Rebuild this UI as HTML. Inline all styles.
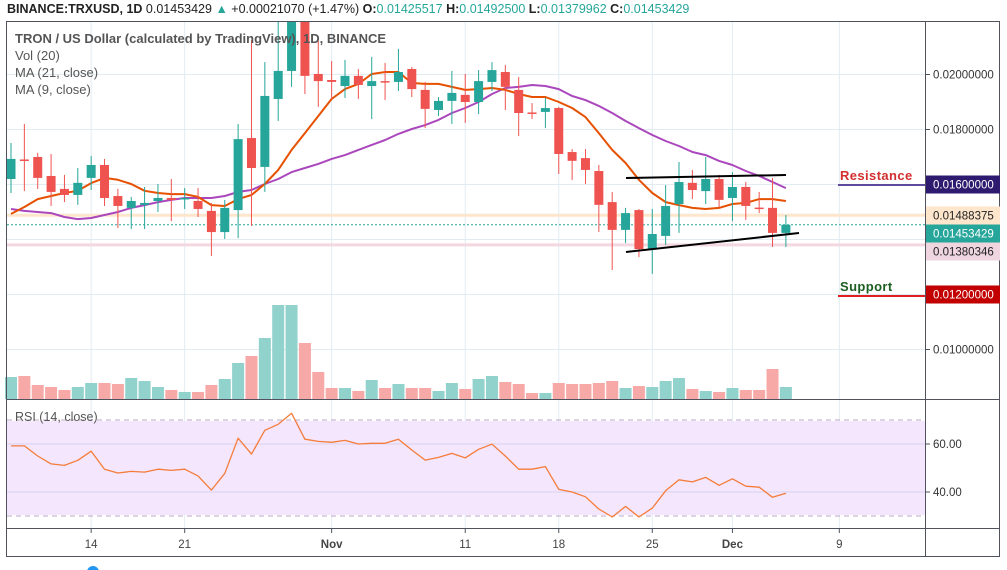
<!DOCTYPE html>
<html><head><meta charset="utf-8"><style>
html,body{margin:0;padding:0;background:#fff;width:1007px;height:570px;overflow:hidden}
svg{display:block;font-family:"Liberation Sans",sans-serif}
</style></head><body>
<svg id="c" width="1007" height="570" viewBox="0 0 1007 570">
<rect width="1007" height="570" fill="#fff"/>
<g id="grid"></g>
<rect x="7" y="421" width="918" height="94" fill="#f3e6fd"/>
<g id="rsiGrid"></g>
<g id="levels"></g>
<g id="vol"></g>
<g id="ma"></g>
<g id="candles" clip-path="url(#mainClip)"></g>
<clipPath id="mainClip"><rect x="7" y="21" width="918" height="378"/></clipPath>
<g id="rsi"></g>
<g id="annot"></g>
<!-- frames -->
<rect x="6.5" y="21.5" width="993" height="535" fill="none" stroke="#50535e" stroke-width="1"/>
<line x1="925.5" y1="21" x2="925.5" y2="556" stroke="#50535e"/>
<line x1="7" y1="399.5" x2="1000" y2="399.5" stroke="#50535e"/>
<line x1="7" y1="528.5" x2="1000" y2="528.5" stroke="#50535e"/>
<g id="axes"></g>
<text x="7" y="13" font-size="12.5" fill="#222"><tspan font-weight="bold">BINANCE:TRXUSD, 1D</tspan> 0.01453429 <tspan fill="#26a69a">▲</tspan> +0.00021070 (+1.47%) <tspan font-weight="bold">O:</tspan><tspan fill="#26a69a">0.01425517</tspan> <tspan font-weight="bold">H:</tspan><tspan fill="#26a69a">0.01492500</tspan> <tspan font-weight="bold">L:</tspan><tspan fill="#26a69a">0.01379962</tspan> <tspan font-weight="bold">C:</tspan><tspan fill="#26a69a">0.01453429</tspan></text>
<g font-size="13" fill="#555">
<text x="15" y="43" font-weight="bold">TRON / US Dollar (calculated by TradingView), 1D, BINANCE</text>
<text x="15" y="60">Vol (20)</text>
<text x="15" y="77">MA (21, close)</text>
<text x="15" y="94">MA (9, close)</text>
<text x="15" y="421" font-size="12.5">RSI (14, close)</text>
</g>
<circle cx="93" cy="572" r="6" fill="#2196f3"/>
</svg>
<script>
// prices in units of 1e-4 USD
const opens=[162.0,169.1,170.0,163.1,158.4,156.2,162.4,167.1,155.8,151.5,152.6,154.0,155.1,154.7,154.0,150.4,142.7,150.7,176.9,166.4,191.1,201.3,225.3,200.2,198.0,195.8,199.5,195.8,197.6,197.3,202.0,194.4,187.1,190.4,192.6,190.0,197.3,200.9,194.4,186.2,186.4,187.8,171.8,169.6,164.9,153.6,143.5,150.7,136.5,141.3,152.9,160.6,157.6,162.0,155.1,159.1,151.6,151.5,142.4];
const highs=[175.1,182.0,171.5,171.1,163.5,166.0,170.4,169.3,158.4,155.5,159.1,160.2,162.0,158.7,158.7,153.3,154.4,182.0,212.5,204.5,219.8,227.1,227.1,212.2,204.9,205.3,202.0,206.4,204.2,209.3,202.7,197.3,191.8,201.3,200.2,201.6,204.5,203.5,199.1,189.6,191.5,188.2,172.9,172.9,167.1,157.3,151.5,151.1,151.1,159.8,168.2,165.3,170.0,163.5,164.5,160.9,157.3,162.4,148.9];
const lows=[156.9,157.6,158.4,152.2,153.6,152.6,158.0,152.2,144.2,143.8,143.8,150.0,146.7,151.1,148.2,134.0,140.2,140.5,144.9,157.3,183.1,195.5,192.9,188.2,191.1,191.5,191.1,183.8,190.7,194.0,191.8,180.5,184.9,182.0,182.4,185.6,194.0,187.1,177.6,183.8,180.5,163.8,161.6,160.2,142.7,128.9,138.7,133.6,127.5,138.0,142.4,154.7,152.9,151.8,146.7,147.1,149.6,137.3,137.3];
const closes=[169.3,168.7,162.4,157.3,156.2,160.6,167.1,155.1,152.2,154.0,153.3,155.1,154.4,155.1,151.1,142.7,151.5,176.5,166.0,192.2,201.3,223.5,199.5,197.6,197.3,199.5,196.2,197.6,197.3,200.9,194.7,187.5,190.4,193.3,190.0,197.6,201.6,195.5,186.0,185.8,187.8,171.1,168.6,165.3,152.6,143.5,149.6,136.5,142.0,152.2,160.9,158.0,162.0,154.4,159.1,152.2,151.3,142.4,145.34];
const volumes=[22,23,14,12,9,12,16,16,15,21,18,12,9,7,7,14,20,36,43,61,94,94,56,27,11,11,8,19,11,15,11,11,8,16,10,20,23,17,15,6,6,16,15,15,16,18,11,13,12,18,21,10,8,7,11,9,9,30,12];
const ma9=[149.3,151.8,154.7,155.8,156.9,157.7,160.5,162.4,161.7,160.2,157.7,156.9,156.5,156.5,155.5,152.5,152.2,154.7,156.2,160.2,165.3,172.6,178.7,184.9,191.1,194.7,196.6,200.2,200.9,200.9,196.9,196.6,196.6,195.5,194.4,194.7,195.1,194.4,192.9,191.8,191.8,190.0,187.8,184.5,178.7,172.6,167.8,161.7,156.9,153.6,152.5,151.5,151.1,151.5,152.9,153.3,154.7,154.7,154.0];
const ma21=[151.1,150.4,150.0,149.6,148.2,147.4,147.8,148.9,150.0,151.5,152.5,153.6,154.4,155.1,155.1,155.1,155.8,157.3,158.0,160.2,162.0,164.5,166.0,167.5,169.3,170.7,172.6,174.4,176.2,178.4,180.2,181.6,183.5,186.0,187.8,190.0,192.9,195.1,195.5,196.2,195.8,194.7,192.2,190.7,188.6,186.0,183.1,180.5,178.0,175.8,174.0,171.8,170.7,168.6,167.1,164.9,163.1,160.9,158.7];
const rsiVals=[59.2,59.2,55,51.7,51.1,53.2,57,49.5,47.9,48.6,48.3,49.5,49,49.5,46.7,40.8,47.8,62.4,55.8,65.7,68.2,72.8,62,61.1,60.7,61.5,60,60.3,60.3,62,57.5,53.3,54.4,56.1,54.2,57.8,59.9,55,49.5,49.5,50.6,41.1,40,38,32.9,29.6,34,29.6,33.3,40.5,45.1,44.2,46.1,42.8,45.5,42.4,42,37.8,39.5];
const tickLabels=["14","21","Nov","11","18","25","Dec","9"];
const tickDays=[6,13,24,34,41,48,54,62];
const tickBold=[false,false,true,false,false,false,true,false];
const priceTicks=[200,180,160,140,120,100];
const priceTickLabels=["0.02000000","0.01800000","","","","0.01000000"];
const rsiTicks=[60,40];
const rsiTickLabels=["60.00","40.00"];

const NS='http://www.w3.org/2000/svg';
function el(tag,attrs,parent){const e=document.createElementNS(NS,tag);for(const k in attrs)e.setAttribute(k,attrs[k]);parent.appendChild(e);return e;}
const xOf=i=>11+i*13.36;
const yOf=p=>74.5+(200-p)*2.75;
const yVol=v=>399-v;
const yRsi=v=>492-(v-40)*2.4;
const G=id=>document.getElementById(id);

// grid
const grid=G('grid');
tickDays.forEach(d=>{const l=el('line',{x1:xOf(d),x2:xOf(d),y1:21,y2:528,stroke:'#e1ecf2'},grid);

});
priceTicks.forEach(p=>{const l=el('line',{x1:7,x2:925,y1:yOf(p),y2:yOf(p),stroke:'#e1ecf2'},grid);

});
const rg=G('rsiGrid');
rsiTicks.forEach(v=>{const l=el('line',{x1:7,x2:925,y1:yRsi(v),y2:yRsi(v),stroke:'#d8d3f0'},rg);

});
[70,30].forEach(v=>{const l=el('line',{x1:7,x2:925,y1:yRsi(v),y2:yRsi(v),stroke:'#b8a8c0','stroke-dasharray':'5,4'},rg);

});

// level lines
const lv=G('levels');
[[148.8375,'#fde6cc',3,null],[138.0346,'#f3d8e0',3,null],[145.3429,'#26a69a',1,'2,2']].forEach(a=>{
const l=el('line',{x1:7,x2:925,y1:yOf(a[0]),y2:yOf(a[0]),stroke:a[1],'stroke-width':a[2]},lv);
if(a[3])l.setAttribute('stroke-dasharray',a[3]);

});

// volume
const vg=G('vol');
volumes.forEach((v,i)=>{const up=closes[i]>=opens[i];
const r=el('rect',{x:xOf(i)-6,y:yVol(v),width:12,height:v,fill:up?'#92d2cc':'#f7a9a7'},vg);

});

// MAs
const mg=G('ma');
function line(arr,color,yf,parent,name,w){const d=arr.map((v,i)=>(i?'L':'M')+xOf(i).toFixed(1)+','+yf(v).toFixed(1)).join('');
const p=el('path',{d:d,fill:'none',stroke:color,'stroke-width':w,'stroke-linejoin':'round'},parent);

}
line(ma21,'#ab47bc',yOf,mg,'ma21-line',2);
line(ma9,'#e65100',yOf,mg,'ma9-line',2);

// candles
const cg=G('candles');
opens.forEach((o,i)=>{const c=closes[i],up=c>=o,col=up?'#26a69a':'#ef5350',x=xOf(i);
const w=el('line',{x1:x,x2:x,y1:yOf(highs[i]),y2:yOf(lows[i]),stroke:col,'stroke-width':1},cg);


const t=yOf(Math.max(o,c)),b=yOf(Math.min(o,c));
const r=el('rect',{x:x-4.5,y:t,width:9,height:Math.max(1.5,b-t),fill:col},cg);

});

// RSI
line(rsiVals,'#f57c3a',yRsi,G('rsi'),'rsi-path',1.3);

// annotations
const an=G('annot');
function tl(x1,y1,x2,y2,name,col,w){const l=el('line',{x1,y1,x2,y2,stroke:col,'stroke-width':w},an);

}
tl(626,178,786,175,'upper-trendline','#000',2);
tl(626,252,799,233,'lower-trendline','#000',2);
tl(838,185,925,185,'resistance-line','#5e4b9e',2);
tl(838,296,925,296,'support-line','#e02020',2);
function tx(x,y,s,attrs,name){const t=el('text',Object.assign({x,y},attrs),an);t.textContent=s;

return t;}
tx(840,180,'Resistance',{'font-size':13,'font-weight':'bold',fill:'#d32f2f','letter-spacing':'0.4'},'resistance-label');
tx(840,291,'Support',{'font-size':13,'font-weight':'bold',fill:'#1b5e20','letter-spacing':'0.4'},'support-label');

// axes
const ax=G('axes');
priceTicks.forEach((p,i)=>{if(!priceTickLabels[i])return;
const k=el('line',{x1:925,x2:930,y1:yOf(p),y2:yOf(p),stroke:'#50535e'},ax);


const t=el('text',{x:933,y:yOf(p)+4,'font-size':11.5,fill:'#333'},ax);t.textContent=priceTickLabels[i];

});
[[184.5,'#2e1a6e','#fff','0.01600000'],[215.5,'#fde6cc','#222','0.01488375'],[233.5,'#26a69a','#fff','0.01453429'],[251.5,'#eed5df','#222','0.01380346'],[294.5,'#c20000','#fff','0.01200000']].forEach(a=>{
const r=el('rect',{x:926,y:a[0]-9,width:74,height:18,fill:a[1]},ax);


const t=el('text',{x:933,y:a[0]+4,'font-size':11.5,fill:a[2]},ax);t.textContent=a[3];

});
rsiTicks.forEach((v,i)=>{const k=el('line',{x1:925,x2:930,y1:yRsi(v),y2:yRsi(v),stroke:'#50535e'},ax);


const t=el('text',{x:933,y:yRsi(v)+4,'font-size':11.5,fill:'#333'},ax);t.textContent=rsiTickLabels[i];

});
tickDays.forEach((d,i)=>{const k=el('line',{x1:xOf(d),x2:xOf(d),y1:528,y2:533,stroke:'#50535e'},ax);


const t=el('text',{x:xOf(d),y:548,'font-size':11.5,fill:'#444','text-anchor':'middle','font-weight':tickBold[i]?'bold':'normal'},ax);t.textContent=tickLabels[i];

});
</script>
</body></html>
